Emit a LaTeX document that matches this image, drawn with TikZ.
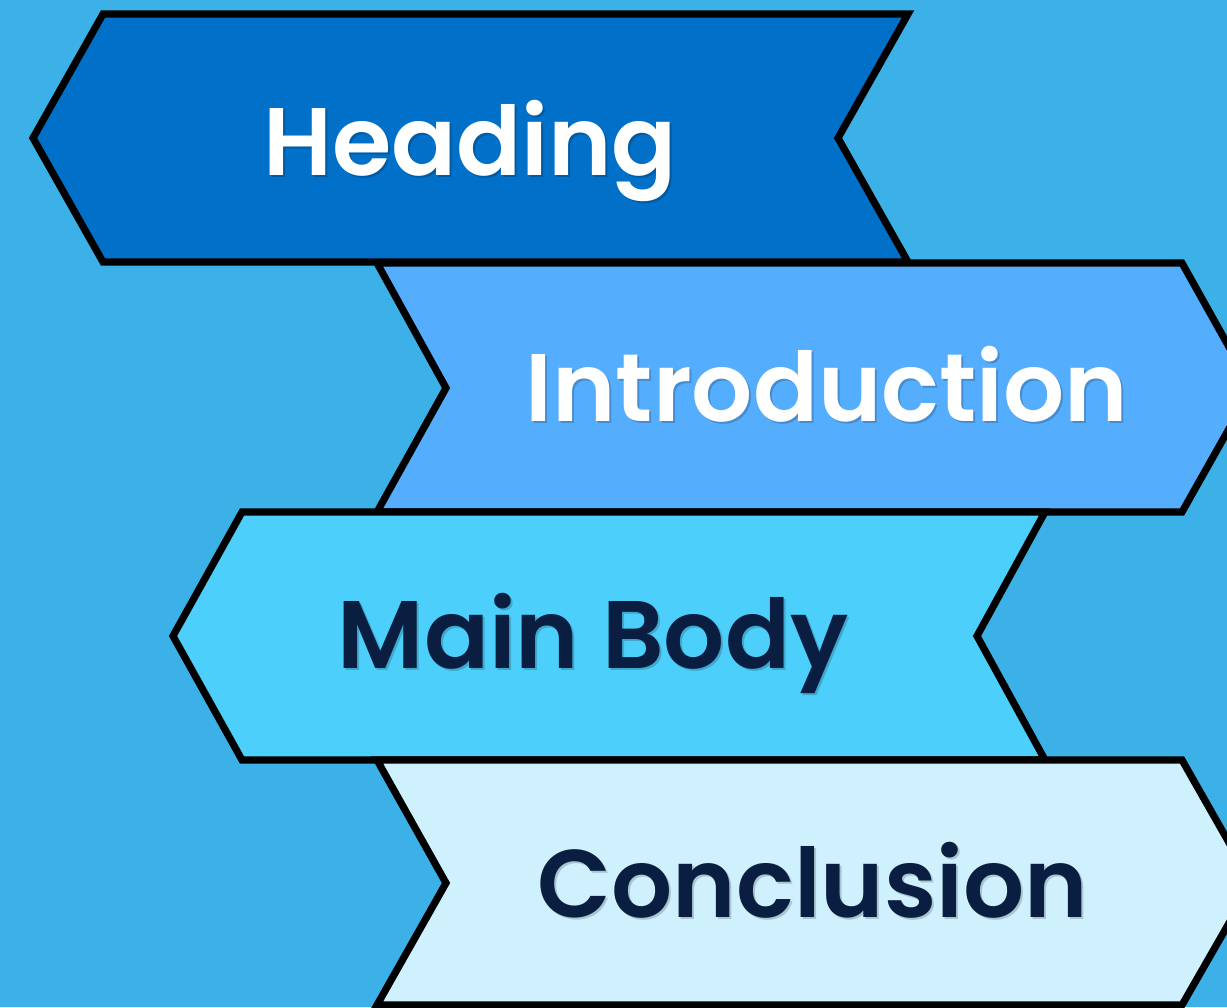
\documentclass[tikz,border=0pt]{standalone}
\usepackage{fontspec}
\setmainfont{Poppins}
\newfontfamily\titlefont{Poppins SemiBold}
\definecolor{bgblue}{HTML}{3CB1E7}
\definecolor{headfill}{HTML}{0070C8}
\definecolor{introfill}{HTML}{55ADFE}
\definecolor{bodyfill}{HTML}{4CCFFA}
\definecolor{endfill}{HTML}{CFF1FD}
\definecolor{navytext}{HTML}{0A1E42}

\tikzset{
  banner/.style={draw=black, line width=5.4pt},
  title text/.style={font=\titlefont\fontsize{72}{80}\selectfont, anchor=base},
  title shadow/.style={title text, text=black, opacity=0.18},
}

\begin{document}
\begin{tikzpicture}[x=0.75pt,y=-0.75pt]
\useasboundingbox (0,0) rectangle (1227,1007);
\clip (0,0) rectangle (1227,1007);
\fill[bgblue] (0,0) rectangle (1227,1007);

% Heading
\draw[banner, fill=headfill] (103,14) -- (908,14) -- (838,138) -- (908,262) -- (103,262) -- (33,138) -- cycle;
\node[title shadow] (heading shadow) at (472,177) {Heading};
\node[title text, text=white] (heading) at (470,175) {Heading};

% Introduction
\draw[banner, fill=introfill] (377,263) -- (1182,263) -- (1252,388) -- (1182,512) -- (377,512) -- (446,388) -- cycle;
\node[title shadow] (intro shadow) at (829,423) {Introduction};
\node[title text, text=white] (intro) at (827,421) {Introduction};

% Main Body
\draw[banner, fill=bodyfill] (242,512) -- (1045,512) -- (977,636) -- (1045,760) -- (242,760) -- (173,636) -- cycle;
\node[title shadow] (body shadow) at (595,670) {Main Body};
\node[title text, text=navytext] (body) at (593,668) {Main Body};

% Conclusion
\draw[banner, fill=endfill] (377,760) -- (1182,760) -- (1252,883) -- (1182,1005) -- (377,1005) -- (446,883) -- cycle;
\node[title shadow] (concl shadow) at (815,919) {Conclusion};
\node[title text, text=navytext] (concl) at (813,917) {Conclusion};

\end{tikzpicture}
\end{document}
